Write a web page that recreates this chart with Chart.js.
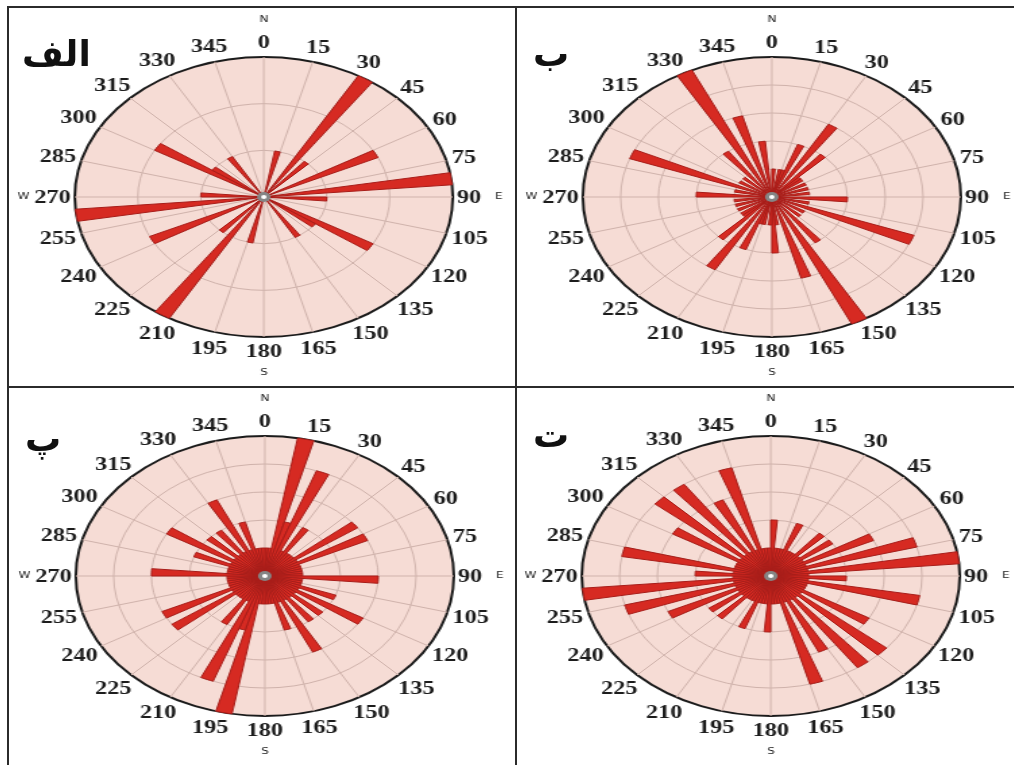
<!DOCTYPE html>
<html>
<head>
<meta charset="utf-8">
<script src="https://cdn.jsdelivr.net/npm/chart.js@4.4.1/dist/chart.umd.min.js"></script>
<style>
  html,body{margin:0;padding:0;background:#fff;}
  #page{position:relative;width:1014px;height:765px;overflow:hidden;background:#fff;}
  .rose{position:absolute;transform-origin:0 0;transform:scaleX(1.35);}
  .line{position:absolute;background:#2b2b2b;}
  .tag{position:absolute;font:bold 36px "DejaVu Sans";line-height:1;color:#111;white-space:nowrap;}
</style>
</head>
<body>
<div id="page">
  <canvas id="cAlef" class="rose" width="376" height="376" style="left:10px;top:9px"></canvas>
  <canvas id="cBe"   class="rose" width="376" height="376" style="left:518px;top:9px"></canvas>
  <canvas id="cPe"   class="rose" width="376" height="376" style="left:11px;top:388px"></canvas>
  <canvas id="cTe"   class="rose" width="376" height="376" style="left:517px;top:388px"></canvas>

  <div class="line" style="left:7px;top:6px;width:1007px;height:2px"></div>
  <div class="line" style="left:7px;top:6px;width:2px;height:759px"></div>
  <div class="line" style="left:515px;top:6px;width:2px;height:759px"></div>
  <div class="line" style="left:7px;top:386px;width:1007px;height:2px"></div>

  <div class="tag" style="left:22px;top:36px">الف</div>
  <div class="tag" style="left:533px;top:36px">ب</div>
  <div class="tag" style="left:25px;top:421px">پ</div>
  <div class="tag" style="left:533px;top:417px">ت</div>
</div>

<script>
/* 5 degree bins, start angle of each bin (clockwise from north) */
const binStart = [0,5,10,15,20,25,30,35,40,45,50,55,60,65,70,75,80,85,
                  90,95,100,105,110,115,120,125,130,135,140,145,150,155,160,165,170,175,
                  180,185,190,195,200,205,210,215,220,225,230,235,240,245,250,255,260,265,
                  270,275,280,285,290,295,300,305,310,315,320,325,330,335,340,345,350,355];

/* labels every 15 degrees */
const dirLabels = ['0','15','30','45','60','75','90','105','120','135','150','165',
                   '180','195','210','225','240','255','270','285','300','315','330','345'];

/* counts per bin */
const alefCounts = [0,0,1,0,0,0,3,0,1,0,0,0, 2,0,0,0,3,0,1,0,0,0,0,0, 2,1,0,0,0,1,0,0,0,0,0,0,
                    0,0,1,0,0,0,3,0,1,0,0,0, 2,0,0,0,3,0,1,0,0,0,0,0, 2,1,0,0,0,1,0,0,0,0,0,0];
const beCounts   = [1,0,1,1,2,0,3,0,2,1,1,0, 1,0,1,0,1,0,2,0,1,0,4,0, 1,0,1,0,2,0,5,0,3,0,1,2,
                    1,0,1,1,2,0,3,0,2,1,1,0, 1,0,1,0,1,0,2,0,1,0,4,0, 1,0,1,0,2,0,5,0,3,0,2,0];
const peCounts   = [1,1,5,2,4,1,2,1,1,1,3,1, 3,1,1,1,1,1,3,1,1,1,2,1, 3,1,2,1,2,1,3,1,2,1,1,1,
                    1,1,5,2,4,1,2,1,1,1,3,1, 3,1,1,1,1,1,3,1,1,1,2,1, 3,1,2,1,2,1,3,1,2,1,1,1];
const teCounts   = [2,1,1,1,2,1,1,1,2,1,2,1, 3,1,4,1,5,1,2,1,4,1,1,1, 3,1,4,1,4,1,3,1,4,1,1,1,
                    2,1,1,1,2,1,1,1,2,1,2,1, 3,1,4,1,5,1,2,1,4,1,1,1, 3,1,4,1,4,1,3,1,4,1,1,1];

const ringMax = { cAlef: 3, cBe: 5, cPe: 5, cTe: 5 };

const GRID = '#d0b3ac';
const EDGE = '#1b1b1b';

/* degree labels, compass letters and hub */
const compass = {
  id: 'compass',
  afterDraw(chart){
    const r = chart.scales.r, ctx = chart.ctx, R = r.drawingArea;
    ctx.save();
    ctx.fillStyle = '#1c1c1c';
    ctx.textAlign = 'center';
    ctx.textBaseline = 'middle';
    ctx.font = 'bold 18px "Liberation Serif"';
    dirLabels.forEach(txt => {
      const idx = binStart.indexOf(Number(txt));
      const a = r.getIndexAngle(idx);
      const s = Math.abs(Math.sin(a)), c = Math.abs(Math.cos(a));
      const w = ctx.measureText(txt).width;
      const d = R + 8 - 5 * s + s * w / 2 + c * 6.5;
      const p = r.getPointPosition(idx, d);
      ctx.fillText(txt, p.x, p.y + 1);
    });
    ctx.font = '9px "DejaVu Sans"';
    [['N', 0, 37], ['E', 18, 34], ['S', 36, 36], ['W', 54, 38]].forEach(([t, idx, off]) => {
      const p = r.getPointPosition(idx, R + off);
      ctx.fillText(t, p.x, p.y);
    });
    ctx.beginPath(); ctx.arc(r.xCenter, r.yCenter, 5, 0, Math.PI * 2);
    ctx.fillStyle = '#858585'; ctx.fill();
    ctx.beginPath(); ctx.arc(r.xCenter, r.yCenter, 2, 0, Math.PI * 2);
    ctx.fillStyle = '#fff'; ctx.fill();
    ctx.restore();
  }
};

function rose(id, counts){
  const max = ringMax[id];
  return new Chart(document.getElementById(id), {
    type: 'polarArea',
    data: {
      labels: binStart,
      datasets: [{ data: counts, backgroundColor: '#d62a22', borderColor: '#a81d19', borderWidth: 1 }]
    },
    options: {
      responsive: false,
      animation: false,
      devicePixelRatio: 1,
      layout: { padding: 48 },
      plugins: { legend: { display: false }, tooltip: { enabled: false } },
      scales: {
        r: {
          min: 0, max: max, startAngle: 0,
          backgroundColor: '#f6dcd5',
          ticks: { display: false, stepSize: 1 },
          grid: {
            circular: true,
            color: c => c.tick.value === max ? EDGE : GRID,
            lineWidth: c => c.tick.value === max ? 2 : 1
          },
          angleLines: { display: true, color: GRID, lineWidth: c => c.index % 3 === 0 ? 1 : 0 },
          pointLabels: { display: false }
        }
      }
    },
    plugins: [compass]
  });
}

rose('cAlef', alefCounts);
rose('cBe', beCounts);
rose('cPe', peCounts);
rose('cTe', teCounts);
</script>
</body>
</html>
